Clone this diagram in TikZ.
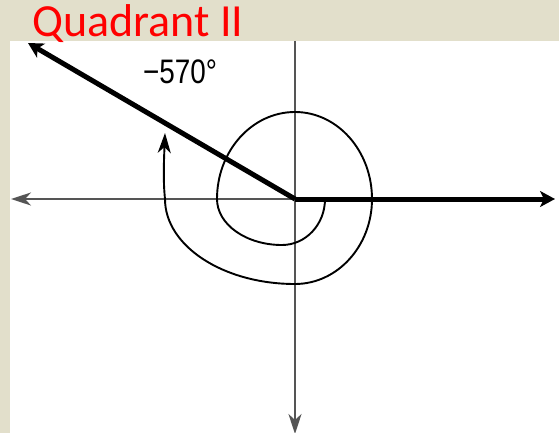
\documentclass[tikz,border=0pt]{standalone}
\usepackage{fontspec}
\newfontfamily\calib{Carlito}
\newfontfamily\arial{Liberation Sans}
\usetikzlibrary{arrows.meta}
\definecolor{beige}{RGB}{226,223,203}
\definecolor{axisgray}{RGB}{85,85,85}
\begin{document}
\begin{tikzpicture}[x=1pt,y=-1pt,
  axisline/.style={draw=axisgray,line width=2.2pt},
  rayline/.style={draw=black,line width=5pt},
  spiral/.style={draw=black,line width=1.9pt},
  tip/.style={-{Stealth[length=20pt,width=13pt,inset=6pt]}},
  raytip/.style={-{Stealth[length=15pt,width=16pt,inset=4pt]}}]
\fill[beige] (0,0) rectangle (559,433);
\fill[white] (10,41) rectangle (559,433);
\useasboundingbox (0,0) rectangle (559,433);
\coordinate (O) at (295,199);
\coordinate (L) at (11,199);
\coordinate (T) at (295,41);
\coordinate (B) at (295,434);
\coordinate (R) at (555,199);
\coordinate (Q) at (28,43);
\coordinate (S) at (325,199);
% axes
\draw[axisline,tip] (O) -- (L);
\draw[axisline,tip] (T) -- (B);
% rays
\draw[rayline,raytip] (O) -- (R);
\draw[rayline,raytip] (O) -- (Q);
% spiral
\draw[spiral,-{Stealth[length=20pt,width=13pt,inset=6pt]}] (S)
  arc[start angle=0,end angle=90,x radius=43,y radius=46]
  arc[start angle=90,end angle=180,x radius=65,y radius=46]
  arc[start angle=180,end angle=270,x radius=78,y radius=87]
  arc[start angle=270,end angle=360,x radius=77,y radius=87]
  arc[start angle=0,end angle=90,x radius=77,y radius=85]
  arc[start angle=90,end angle=180,x radius=130,y radius=85]
  .. controls (163,180) and (164,160) .. (165,133);
% labels
\node[anchor=base west,inner sep=0pt,text=red,font=\calib\fontsize{46}{46}\selectfont] (title) at (32,37) {Quadrant II};
\node[inner sep=0pt,xscale=0.82,transform shape,font=\arial\fontsize{34}{34}\selectfont] (lab) at (180,72) {−570°};
\end{tikzpicture}
\end{document}
